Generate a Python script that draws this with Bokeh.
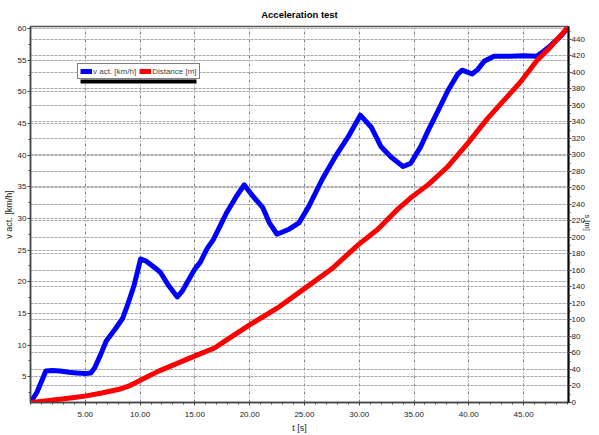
import math
from bokeh.plotting import figure
from bokeh.models import (Range1d, LinearAxis, FixedTicker, PrintfTickFormatter,
                          Grid, Legend, LegendItem, BoxAnnotation)
from bokeh.embed import file_html
from bokeh.resources import INLINE

# ---- data ----
t_speed = [0.1, 0.6, 1.4, 2.0, 2.7, 3.5, 4.2, 5.0, 5.5, 5.85, 6.4, 6.9, 7.8, 8.4, 8.85,
           9.45, 10.05, 10.5, 11.2, 11.85, 12.6, 13.4, 13.8, 14.4, 15.0, 15.5, 16.1,
           16.7, 17.9, 18.8, 19.5, 20.3, 21.2, 21.8, 22.5, 23.6, 24.5, 25.4, 26.6,
           27.8, 29.0, 30.1, 31.1, 32.0, 32.9, 34.0, 34.7, 35.6, 36.3, 37.2, 38.1,
           39.0, 39.4, 40.3, 40.8, 41.4, 42.3, 43.8, 45.0, 46.2, 46.6, 47.4, 48.4, 49.0]
v_act = [1.2, 2.6, 5.9, 6.0, 5.9, 5.7, 5.6, 5.5, 5.6, 6.4, 8.5, 10.6, 12.7, 14.2, 16.3,
         19.4, 23.6, 23.3, 22.4, 21.5, 19.4, 17.6, 18.4, 20.2, 22.0, 23.1, 25.2,
         26.7, 30.9, 33.5, 35.3, 33.5, 31.7, 29.3, 27.5, 28.3, 29.3, 31.9, 36.1,
         39.7, 42.9, 46.3, 44.4, 41.3, 39.7, 38.2, 38.7, 41.3, 43.9, 47.0, 50.2,
         52.8, 53.4, 52.8, 53.5, 54.8, 55.6, 55.6, 55.7, 55.6, 56.1, 57.2, 58.8, 60.0]

t_dist = [0.1, 1.5, 2.7, 4.0, 5.1, 6.5, 8.1, 9.0, 9.9, 10.8, 11.7, 13.5, 15.3, 16.8,
          17.7, 20.0, 22.7, 25.0, 27.5, 29.9, 31.7, 33.5, 34.7, 36.3, 38.1, 39.9,
          41.7, 43.2, 44.7, 46.2, 47.4, 49.0]
distance = [0, 2, 4, 6, 8, 11.5, 16, 20, 26, 32, 38, 48, 58, 66,
            74, 94, 116, 138, 162, 191, 210, 234, 248, 264, 286, 314,
            344, 366, 388, 414, 430, 454]

x_ticks = [5, 10, 15, 20, 25, 30, 35, 40, 45]
v_ticks = [5, 10, 15, 20, 25, 30, 35, 40, 45, 50, 55, 60]
d_ticks = list(range(0, 441, 20))

title_text = "Acceleration test"
x_label = "t [s]"
v_label = "v act. [km/h]"
d_label = "s [m]"
legend_labels = ["v act. [km/h]", "Distance [m]"]

FONT = "Liberation Sans"

p = figure(width=599, height=435, output_backend="svg", toolbar_location=None,
           x_range=Range1d(0, 49.1), y_range=Range1d(0.94, 60.3),
           min_border_left=30, min_border_right=26, min_border_top=25, min_border_bottom=30,
           title=title_text)
p.title.align = "center"
p.title.text_font = FONT
p.title.text_font_size = "9.5px"
p.title.text_font_style = "bold"
p.title.text_color = "#000000"
p.title.offset = 0
p.title.standoff = 13

p.extra_y_ranges = {"dist": Range1d(0, 455.6)}

p.background_fill_color = "white"
p.border_fill_color = "white"
p.outline_line_color = "#555555"
p.outline_line_width = 1.5

# x axis
xa = p.xaxis[0]
xa.ticker = FixedTicker(ticks=x_ticks, minor_ticks=[i for i in range(0, 50)])
xa.formatter = PrintfTickFormatter(format="%.2f")
xa.axis_label = x_label

# left axis
ya = p.yaxis[0]
ya.ticker = FixedTicker(ticks=v_ticks, minor_ticks=[i * 2.5 for i in range(1, 25)])
ya.axis_label = v_label

# right axis
ra = LinearAxis(y_range_name="dist", axis_label=d_label,
                ticker=FixedTicker(ticks=d_ticks, minor_ticks=list(range(0, 451, 10))))
p.add_layout(ra, "right")

for ax in (xa, ya, ra):
    ax.major_label_text_font = FONT
    ax.major_label_text_font_size = "8px"
    ax.major_label_text_color = "#222222"
    ax.axis_label_text_font = FONT
    ax.axis_label_text_font_size = "9px"
    ax.axis_label_text_font_style = "normal"
    ax.axis_label_text_color = "#222222"
    ax.axis_label_text_line_height = 1.0
    ax.major_tick_out = 3
    ax.major_tick_in = 0
    ax.minor_tick_out = 2
    ax.minor_tick_in = 0
    ax.major_label_standoff = 1
    ax.axis_label_standoff = 1
    ax.axis_line_width = 1.5
    ax.axis_line_color = "#444444"
    ax.major_tick_line_color = "#444444"
    ax.minor_tick_line_color = "#444444"
ra.axis_line_color = "#000000"
ra.axis_line_width = 2
ra.major_label_standoff = 0
ra.axis_label_standoff = 0
ra.axis_label_text_font_size = "7.5px"
ra.axis_label_orientation = -math.pi / 2
xa.major_label_standoff = 6
xa.axis_label_standoff = 3

# grids
p.xgrid.grid_line_color = "#808080"
p.xgrid.grid_line_dash = "3 2 1 2"
p.xgrid.grid_line_width = 1
p.ygrid.grid_line_color = "#a8a8a8"
p.ygrid.grid_line_dash = "3 1"
p.ygrid.grid_line_width = 1
rgrid = Grid(dimension=1, ticker=ra.ticker, y_range_name="dist",
             grid_line_color="#a8a8a8", grid_line_dash="3 1", grid_line_width=1)
p.add_layout(rgrid)

# data
r_v = p.line(t_speed, v_act, line_color="#0000FF", line_width=5, line_join="round")
r_d = p.line(t_dist, distance, line_color="#FF0000", line_width=5, line_join="round",
             y_range_name="dist")

# legend shadow (screen units, relative to the frame's lower-left corner)
shadow = BoxAnnotation(left=50, right=166, top=323, bottom=319,
                       left_units="screen", right_units="screen",
                       top_units="screen", bottom_units="screen",
                       fill_color="black", fill_alpha=1.0, line_color=None)
p.add_layout(shadow)

legend = Legend(items=[LegendItem(label=legend_labels[0], renderers=[r_v]),
                       LegendItem(label=legend_labels[1], renderers=[r_d])],
                orientation="horizontal", location=(47, 323),
                label_text_font=FONT, label_text_font_size="8px",
                label_height=10, glyph_height=10, glyph_width=12,
                label_standoff=1, spacing=3, padding=2, margin=0,
                border_line_color="#000000", border_line_width=1,
                background_fill_color="white", background_fill_alpha=1.0)
p.add_layout(legend)

open("out.html", "w").write(file_html(p, INLINE))
